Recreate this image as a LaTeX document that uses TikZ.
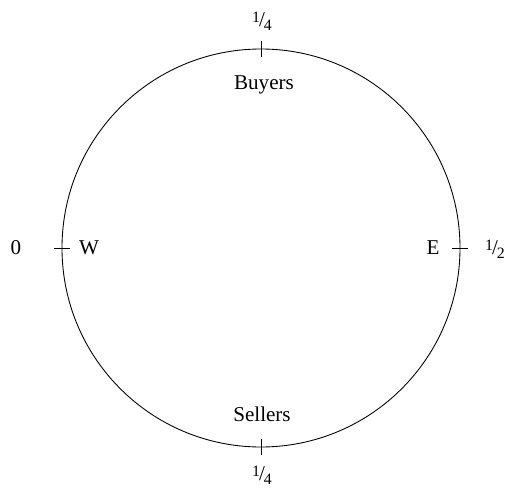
\documentclass[tikz,border=0pt]{standalone}
\usepackage{fontspec}
\setmainfont{Liberation Serif}
\usetikzlibrary{positioning,calc}
\newcommand{\slfrac}[2]{\raisebox{0.45ex}{\small #1}\kern-0.05em/\kern-0.05em\raisebox{-0.35ex}{\small #2}}
\tikzset{
  ring/.style   = {draw, line width=0.5pt},
  tick/.style   = {draw, line width=0.5pt},
  side/.style   = {font=\fontsize{12}{14}\selectfont, inner sep=1pt},
  posval/.style = {font=\fontsize{12}{14}\selectfont, inner sep=1pt}
}

\begin{document}
\begin{tikzpicture}[x=0.02cm,y=0.02cm]
  \useasboundingbox (-261,-239) rectangle (246,248);
  % ---- circle ----
  \draw[ring] (0,0) circle (199);
  \coordinate (n) at (90:199);
  \coordinate (s) at (270:199);
  \coordinate (w) at (180:199);
  \coordinate (e) at (0:199);

  % ---- ticks ----
  \draw[tick] ($(n)+(0,-8)$) -- ($(n)+(0,8)$);
  \draw[tick] ($(s)+(0,-8)$) -- ($(s)+(0,8)$);
  \draw[tick] ($(w)+(-8,0)$) -- ($(w)+(8,0)$);
  \draw[tick] ($(e)+(-8,0)$) -- ($(e)+(8,0)$);

  % ---- inside labels ----
  \node[side] (buy) at (3,163) {Buyers};
  \node[side] (sel) at (1,-166) {Sellers};
  \node[side] (wl) at (-172,0) {W};
  \node[side] (el) at (172,0) {E};

  % ---- positions ----
  \node[posval] (top) at (1,227) {\slfrac{1}{4}};
  \node[posval] (bot) at (1,-227) {\slfrac{1}{4}};
  \node[posval] (zero) at (-245,0) {0};
  \node[posval] (half) at (234,-1) {\slfrac{1}{2}};
\end{tikzpicture}
\end{document}
